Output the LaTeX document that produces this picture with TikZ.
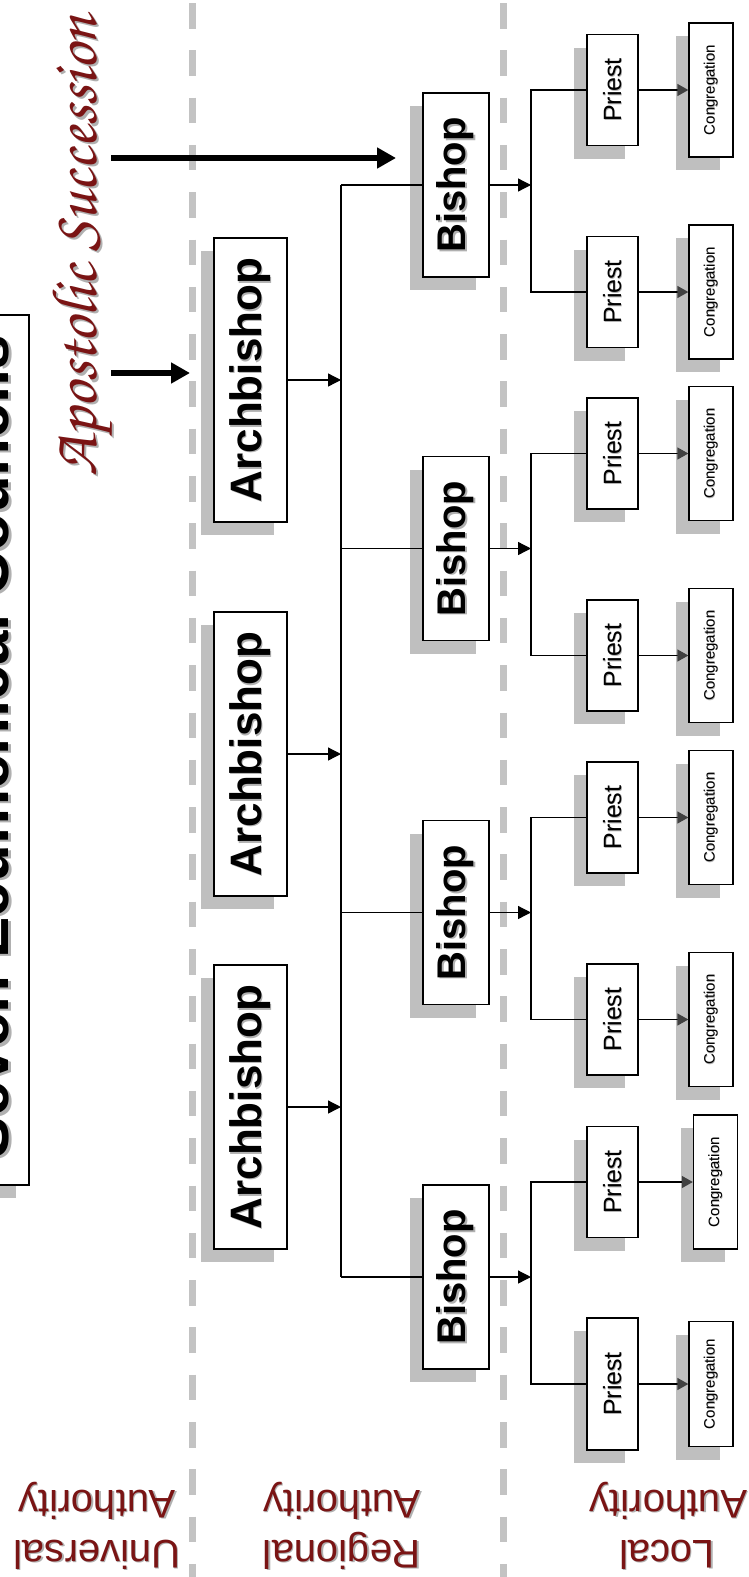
\documentclass[tikz,border=0pt]{standalone}
\usepackage{fontspec}
\setmainfont{Liberation Sans}
\newfontfamily\handfont{TeX Gyre Chorus}
\usetikzlibrary{arrows.meta,shadows,calc}

\definecolor{boxshadow}{HTML}{BFBFBF}
\definecolor{tshadow}{HTML}{B0B0B0}
\definecolor{guidegray}{HTML}{C3C3C3}
\definecolor{maroon}{HTML}{7A1414}
\definecolor{headgray}{HTML}{404040}

% text with a soft grey copy behind it (turned a quarter turn / half turn)
\newcommand\upshadow[1]{\makebox[0pt][l]{\hspace*{-0.035em}\raisebox{-0.035em}{\color{tshadow}#1}}#1}
\newcommand\flipshadow[1]{\makebox[0pt][l]{\hspace*{-0.035em}\raisebox{0.035em}{\color{tshadow}#1}}#1}

\begin{document}
\begin{tikzpicture}[x=1pt,y=-1pt,
  card/.style={draw=black, line width=1.5pt, fill=white, inner sep=0pt,
    drop shadow={shadow xshift=-13pt, shadow yshift=-13pt, fill=boxshadow, opacity=1}},
  archbox/.style={card, minimum width=73pt, minimum height=284pt,
    font=\bfseries\fontsize{44}{44}\selectfont},
  bishbox/.style={card, minimum width=66pt, minimum height=184pt,
    font=\bfseries\fontsize{40}{40}\selectfont},
  priestbox/.style={card, minimum width=51pt, minimum height=111pt,
    font=\fontsize{25}{25}\selectfont},
  congbox/.style={card, line width=1.3pt, minimum width=44pt, minimum height=134pt,
    font=\fontsize{15}{15}\selectfont},
  link/.style={draw=black, line width=1.3pt},
  feed/.style={link, -{Triangle[length=13pt,width=13pt]}},
  toflock/.style={link, -{Triangle[length=11pt,width=12pt,color=headgray]}},
  succession/.style={draw=black, line width=6.5pt, -{Triangle[length=19pt,width=20pt]}},
  guide/.style={draw=guidegray, line width=7pt, dash pattern=on 25.5pt off 21.8pt, dash phase=44.3pt},
  region/.style={text=maroon, font=\fontsize{40}{40}\selectfont, rotate=180, anchor=base, inner sep=0pt},
]
\useasboundingbox (0,0) rectangle (749,1577);
\clip (0,0) rectangle (749,1577);
\fill[white] (0,0) rectangle (749,1577);

% tier separators
\coordinate (sepA0) at (192,0);
\coordinate (sepA1) at (192,1577);
\coordinate (sepB0) at (503,0);
\coordinate (sepB1) at (503,1577);
\draw[guide] (sepA0) -- (sepA1);
\draw[guide] (sepB0) -- (sepB1);

% title box (runs off the left edge)
\node[card, line width=2pt, minimum width=49pt, minimum height=870pt] (councilbox) at (4.5,750) {};
\node[rotate=90, anchor=base, inner sep=0pt, font=\bfseries\fontsize{62}{62}\selectfont]
  (council) at (9,746.5) {\upshadow{Seven Ecumenical Councils}};

% apostolic succession
\node[rotate=90, anchor=base, inner sep=0pt, text=maroon, font=\handfont\fontsize{64}{64}\selectfont]
  (apostolic) at (96,246) {\upshadow{Apostolic Succession}};
\coordinate (succA0) at (111,373);
\coordinate (succA1) at (190,373);
\coordinate (succB0) at (111,158);
\coordinate (succB1) at (396,158);
\draw[succession] (succA0) -- (succA1);
\draw[succession] (succB0) -- (succB1);

% archbishops and the common trunk
\coordinate (trunkTop) at (341,185);
\coordinate (trunkBot) at (341,1277);
\draw[link, line width=2pt] (trunkTop) -- (trunkBot);
\node[archbox] (arch1) at (250.5,380) {\rotatebox{90}{\upshadow{Archbishop}}};
\node[archbox] (arch2) at (250.5,754) {\rotatebox{90}{\upshadow{Archbishop}}};
\node[archbox] (arch3) at (250.5,1107) {\rotatebox{90}{\upshadow{Archbishop}}};
\foreach \a in {1,2,3}
  \draw[feed] (arch\a.east) -- (arch\a.east -| trunkTop);

% bishops, priests and congregations
\foreach \k/\y/\ucx/\lph/\lch in {1/185/711/111/134, 2/548.5/711/111/134,
                                   3/912.5/711/111/134, 4/1277/715.5/132/125}{
  \node[bishbox] (bish\k) at (456,\y) {\rotatebox{90}{\upshadow{Bishop}}};
  \draw[link] (bish\k.west -| trunkTop) -- (bish\k.west);
  \coordinate (fork\k) at (531,\y);
  \draw[feed] (bish\k.east) -- (fork\k);
  \node[priestbox] (pa\k) at (612.5,\y-95) {\rotatebox{90}{\upshadow{Priest}}};
  \node[priestbox, minimum height=\lph pt] (pb\k) at (612.5,\y+107) {\rotatebox{90}{\upshadow{Priest}}};
  \draw[link] (pa\k.west) -- (pa\k.west -| fork\k) -- (pb\k.west -| fork\k) -- (pb\k.west);
  \node[congbox] (ca\k) at (\ucx,\y-95) {\rotatebox{90}{\upshadow{Congregation}}};
  \node[congbox, minimum height=\lch pt] (cb\k) at (711,\y+107) {\rotatebox{90}{\upshadow{Congregation}}};
  \draw[toflock] (pa\k.east) -- (ca\k.west);
  \draw[toflock] (pb\k.east) -- (cb\k.west);
}

% tier labels
\node[region] (uniA) at (97,1540) {\flipshadow{Universal}};
\node[region] (uniB) at (97,1490) {\flipshadow{Authority}};
\node[region] (regA) at (342,1540) {\flipshadow{Regional}};
\node[region] (regB) at (342,1490) {\flipshadow{Authority}};
\node[region] (locA) at (667,1540) {\flipshadow{Local}};
\node[region] (locB) at (668.5,1490) {\flipshadow{Authority}};
\end{tikzpicture}
\end{document}
